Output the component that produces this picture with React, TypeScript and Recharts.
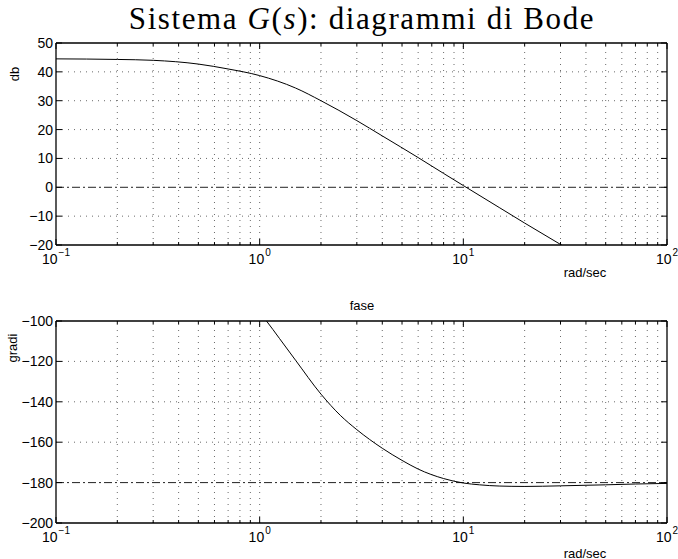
import React from 'react';
import { LineChart, Line, XAxis, YAxis, ReferenceLine } from 'recharts';

// frequency grid (rad/sec) and tick values
const decades = [0.1, 1, 10, 100];
const xTicks = [0.1, 0.2, 0.3, 0.4, 0.5, 0.6, 0.7, 0.8, 0.9, 1, 2, 3, 4, 5, 6, 7, 8, 9, 10, 20, 30, 40, 50, 60, 70, 80, 90, 100];
const decadeExp = ['\u22121', '0', '1', '2'];

// modulo (db)
const magFreq = [0.1, 0.2, 0.3, 0.5, 0.7, 1, 1.5, 2, 3, 4, 6, 8, 10, 15, 20, 30, 40];
const magDb = [44.5, 44.3, 44.0, 42.7, 41.0, 38.7, 34.4, 30.0, 23.1, 17.8, 10.3, 4.8, 0.6, -7.0, -12.4, -19.8, -25.0];
const magTicks = [-20, -10, 0, 10, 20, 30, 40, 50];

// fase (gradi)
const phFreq = [1, 1.08, 1.25, 1.5, 2, 2.5, 3, 4, 5, 6, 8, 10, 12, 15, 20, 30, 50, 70, 100];
const phDeg = [-95.8, -100, -108.6, -119.4, -136.2, -146.9, -153.8, -163, -169, -173.3, -178, -180.2, -181.1, -181.7, -181.9, -181.6, -181.1, -180.7, -180.4];
const phTicks = [-200, -180, -160, -140, -120, -100];

const magData = magFreq.map((w, i) => ({ w, v: magDb[i] }));
const phData = phFreq.map((w, i) => ({ w, v: phDeg[i] }));

const sans = '"Liberation Sans", Arial, sans-serif';
const fmt = (v: number) => (v < 0 ? '\u2212' + Math.abs(v) : String(v));
const isDecade = (v: number) => decades.indexOf(v) >= 0;

const BottomTick = (props: any) => {
  const { x, y, payload } = props;
  const v = payload.value;
  const major = isDecade(v);
  return (
    <g>
      <line x1={x} x2={x} y1={y} y2={y - (major ? 6 : 3)} stroke="#000" />
      {major && (
        <text x={x} y={y + 19} textAnchor="middle" fontFamily={sans} fontSize={14} fill="#000">
          10
          <tspan dx={1} dy={-8} fontSize={10}>{decadeExp[decades.indexOf(v)]}</tspan>
        </text>
      )}
    </g>
  );
};

const TopTick = (props: any) => {
  const { x, y, payload } = props;
  const major = isDecade(payload.value);
  return <line x1={x} x2={x} y1={y} y2={y + (major ? 6 : 3)} stroke="#000" />;
};

const LeftTick = (props: any) => {
  const { x, y, payload } = props;
  return (
    <g>
      <line x1={x} x2={x + 6} y1={y} y2={y} stroke="#000" />
      <text x={x - 3} y={y + 5} textAnchor="end" fontFamily={sans} fontSize={14} fill="#000">
        {fmt(payload.value)}
      </text>
    </g>
  );
};

const RightTick = (props: any) => {
  const { x, y } = props;
  return <line x1={x} x2={x - 6} y1={y} y2={y} stroke="#000" />;
};

const axisLine = { stroke: '#000', strokeWidth: 1.3 };

function BodePanel({ data, yTicks, refY, height, margin }: any) {
  const lo = yTicks[0];
  const hi = yTicks[yTicks.length - 1];
  return (
    <LineChart width={678} height={height} data={data} margin={margin}>
      <XAxis dataKey="w" type="number" scale="log" domain={[0.1, 100]} allowDataOverflow ticks={xTicks}
        interval={0} height={1} tickSize={0} tickMargin={0} tickLine={false} tick={<BottomTick />}
        axisLine={axisLine} />
      <XAxis xAxisId="top" orientation="top" dataKey="w" type="number" scale="log" domain={[0.1, 100]} allowDataOverflow
        ticks={xTicks} interval={0} height={1} tickSize={0} tickMargin={0} tickLine={false} tick={<TopTick />}
        axisLine={axisLine} />
      <YAxis type="number" domain={[lo, hi]} allowDataOverflow ticks={yTicks} interval={0} width={1}
        tickSize={0} tickMargin={0} tickLine={false} tick={<LeftTick />} axisLine={axisLine} />
      <YAxis yAxisId="right" orientation="right" type="number" domain={[lo, hi]} allowDataOverflow ticks={yTicks}
        interval={0} width={1} tickSize={0} tickMargin={0} tickLine={false} tick={<RightTick />}
        axisLine={axisLine} />
      {xTicks.filter((v) => v > 0.1 && v < 100).map((v) => (
        <ReferenceLine key={'x' + v} x={v} stroke="#444" strokeWidth={0.8} strokeDasharray="1 5" />
      ))}
      {yTicks.filter((v: number) => v > lo && v < hi && v !== refY).map((v: number) => (
        <ReferenceLine key={'y' + v} y={v} stroke="#444" strokeWidth={0.8} strokeDasharray="1 5" />
      ))}
      <ReferenceLine y={refY} stroke="#222" strokeWidth={1} strokeDasharray="8 3 2 3" />
      <Line dataKey="v" type="monotone" stroke="#000" strokeWidth={1} dot={false} isAnimationActive={false} />
    </LineChart>
  );
}

const label: React.CSSProperties = {
  position: 'absolute',
  fontFamily: sans,
  fontSize: 13,
  color: '#000',
  whiteSpace: 'nowrap',
  lineHeight: 1,
};

export default function App() {
  return (
    <div style={{ position: 'absolute', left: 0, top: 0, width: 678, height: 559, background: '#fff', overflow: 'hidden' }}>
      <div style={{ position: 'absolute', left: 0, top: 0 }}>
        <BodePanel data={magData} yTicks={magTicks} refY={0} height={280}
          margin={{ top: 42, right: 10, bottom: 34, left: 55 }} />
      </div>
      <div style={{ position: 'absolute', left: 0, top: 280 }}>
        <BodePanel data={phData} yTicks={phTicks} refY={-180} height={279}
          margin={{ top: 40, right: 10, bottom: 35, left: 55 }} />
      </div>
      <div style={{ position: 'absolute', left: 0, width: 724, top: 3, textAlign: 'center', fontFamily: '"Liberation Serif", serif', fontSize: 31, letterSpacing: 1.6, lineHeight: 1 }}>
        Sistema <i>G</i>(<i>s</i>): diagrammi di Bode
      </div>
      <div style={{ ...label, left: 14, top: 74, transform: 'translate(-50%, -50%) rotate(-90deg)' }}>db</div>
      <div style={{ ...label, left: 12, top: 348, transform: 'translate(-50%, -50%) rotate(-90deg)' }}>gradi</div>
      <div style={{ ...label, left: 585, top: 272, transform: 'translate(-50%, -50%)' }}>rad/sec</div>
      <div style={{ ...label, left: 362, top: 305, transform: 'translate(-50%, -50%)' }}>fase</div>
      <div style={{ ...label, left: 585, top: 553, transform: 'translate(-50%, -50%)' }}>rad/sec</div>
    </div>
  );
}
